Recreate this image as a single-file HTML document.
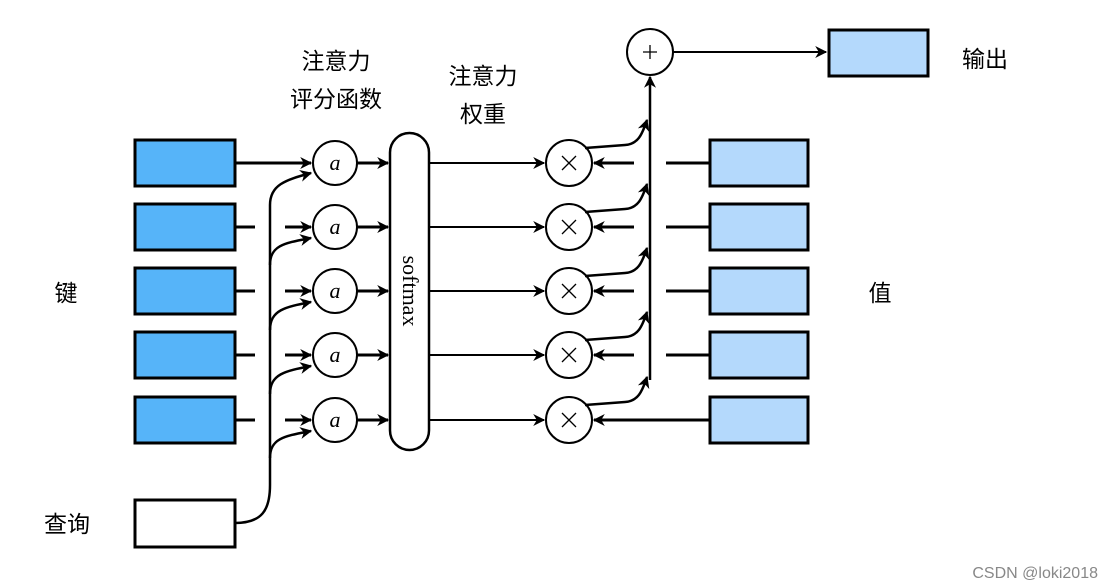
<!DOCTYPE html>
<html><head><meta charset="utf-8"><style>
body{margin:0;background:#fff;}
svg{display:block}
text{font-family:"Liberation Sans","Noto Sans CJK SC",sans-serif;}
</style></head><body>
<svg width="1114" height="588" viewBox="0 0 1114 588" xmlns="http://www.w3.org/2000/svg">
<defs>
<marker id="ar2" viewBox="0 0 10 10" refX="9" refY="5" markerWidth="14" markerHeight="12" orient="auto" markerUnits="userSpaceOnUse">
<path d="M0,0 L10,5 L0,10 L3,5 Z" fill="#000"/>
</marker>
</defs>
<g stroke="#000" stroke-width="3">
<rect x="135" y="140" width="100" height="46" fill="#56b4f9"/>
<rect x="135" y="204" width="100" height="46" fill="#56b4f9"/>
<rect x="135" y="268" width="100" height="46" fill="#56b4f9"/>
<rect x="135" y="332" width="100" height="46" fill="#56b4f9"/>
<rect x="135" y="397" width="100" height="46" fill="#56b4f9"/>
<rect x="135" y="500" width="100" height="47" fill="#fff"/>
<rect x="710" y="140" width="98" height="46" fill="#b4d9fc"/>
<rect x="710" y="204" width="98" height="46" fill="#b4d9fc"/>
<rect x="710" y="268" width="98" height="46" fill="#b4d9fc"/>
<rect x="710" y="332" width="98" height="46" fill="#b4d9fc"/>
<rect x="710" y="397" width="98" height="46" fill="#b4d9fc"/>
<rect x="829" y="30" width="99" height="46" fill="#b4d9fc"/>
<rect x="390" y="133" width="39" height="317" rx="19.5" fill="#fff" stroke-width="2.5"/>
</g>
<g stroke="#000" stroke-width="2" fill="#fff">
<circle cx="335" cy="163" r="22"/><circle cx="335" cy="227" r="22"/><circle cx="335" cy="291" r="22"/><circle cx="335" cy="355" r="22"/><circle cx="335" cy="420" r="22"/>
<circle cx="569" cy="163" r="23"/><circle cx="569" cy="227" r="23"/><circle cx="569" cy="291" r="23"/><circle cx="569" cy="355" r="23"/><circle cx="569" cy="420" r="23"/>
<circle cx="650" cy="52" r="23"/>
</g>
<g stroke="#000" stroke-width="1.3">
<path d="M562,156 L576,170 M576,156 L562,170"/>
<path d="M562,220 L576,234 M576,220 L562,234"/>
<path d="M562,284 L576,298 M576,284 L562,298"/>
<path d="M562,348 L576,362 M576,348 L562,362"/>
<path d="M562,413 L576,427 M576,413 L562,427"/>
<path d="M643,52 L657,52 M650,45 L650,59"/>
</g>
<g font-style="italic" font-size="22" text-anchor="middle">
<text x="335" y="170" style="font-family:'Liberation Serif',serif">a</text>
<text x="335" y="234" style="font-family:'Liberation Serif',serif">a</text>
<text x="335" y="298" style="font-family:'Liberation Serif',serif">a</text>
<text x="335" y="362" style="font-family:'Liberation Serif',serif">a</text>
<text x="335" y="427" style="font-family:'Liberation Serif',serif">a</text>
</g>
<text transform="translate(403,291) rotate(90)" text-anchor="middle" font-size="22" style="font-family:'Liberation Serif',serif">softmax</text>
<g stroke="#000" stroke-width="3" fill="none">
<path d="M235,163 L311,163" marker-end="url(#ar2)"/>
<path d="M235,227 L255,227 M285,227 L311,227" marker-end="url(#ar2)"/>
<path d="M235,291 L255,291 M285,291 L311,291" marker-end="url(#ar2)"/>
<path d="M235,355 L255,355 M285,355 L311,355" marker-end="url(#ar2)"/>
<path d="M235,420 L255,420 M285,420 L311,420" marker-end="url(#ar2)"/>
<path d="M357,163 L388,163" marker-end="url(#ar2)"/>
<path d="M357,227 L388,227" marker-end="url(#ar2)"/>
<path d="M357,291 L388,291" marker-end="url(#ar2)"/>
<path d="M357,355 L388,355" marker-end="url(#ar2)"/>
<path d="M357,420 L388,420" marker-end="url(#ar2)"/>
</g>
<g stroke="#000" stroke-width="2.5" fill="none">
<path d="M235,523 C262,523 270,510 270,485 L270,205 C270,185 285,180 311,173" marker-end="url(#ar2)"/>
<path d="M270,265 C270,245 285,243 311,238" marker-end="url(#ar2)"/>
<path d="M270,330 C270,310 285,307 311,302" marker-end="url(#ar2)"/>
<path d="M270,394 C270,374 285,371 311,366" marker-end="url(#ar2)"/>
<path d="M270,458 C270,438 285,436 311,431" marker-end="url(#ar2)"/>
</g>
<g stroke="#000" stroke-width="2" fill="none">
<path d="M429,163 L544,163" marker-end="url(#ar2)"/>
<path d="M429,227 L544,227" marker-end="url(#ar2)"/>
<path d="M429,291 L544,291" marker-end="url(#ar2)"/>
<path d="M429,355 L544,355" marker-end="url(#ar2)"/>
<path d="M429,420 L544,420" marker-end="url(#ar2)"/>
<path d="M673,52 L826,52" marker-end="url(#ar2)"/>
</g>
<g stroke="#000" stroke-width="3" fill="none">
<path d="M710,163 L666,163 M634,163 L594,163" marker-end="url(#ar2)"/>
<path d="M710,227 L666,227 M634,227 L594,227" marker-end="url(#ar2)"/>
<path d="M710,291 L666,291 M634,291 L594,291" marker-end="url(#ar2)"/>
<path d="M710,355 L666,355 M634,355 L594,355" marker-end="url(#ar2)"/>
<path d="M710,420 L594,420" marker-end="url(#ar2)"/>
</g>
<g stroke="#000" stroke-width="2.5" fill="none">
<path d="M650,380 L650,77" marker-end="url(#ar2)"/>
<path d="M585,148 L625,145 C638,144 642,135 647,120" marker-end="url(#ar2)"/>
<path d="M585,212 L625,209 C638,208 642,199 647,184" marker-end="url(#ar2)"/>
<path d="M585,276 L625,273 C638,272 642,263 647,248" marker-end="url(#ar2)"/>
<path d="M585,340 L625,337 C638,336 642,327 647,312" marker-end="url(#ar2)"/>
<path d="M585,405 L625,402 C638,401 642,392 647,377" marker-end="url(#ar2)"/>
</g>
<g font-size="23" fill="#000">
<text x="336" y="69" text-anchor="middle">注意力</text>
<text x="336" y="107" text-anchor="middle">评分函数</text>
<text x="483" y="84" text-anchor="middle">注意力</text>
<text x="483" y="122" text-anchor="middle">权重</text>
<text x="985" y="67" text-anchor="middle">输出</text>
<text x="66" y="301" text-anchor="middle">键</text>
<text x="880" y="301" text-anchor="middle">值</text>
<text x="67" y="532" text-anchor="middle">查询</text>
</g>
<text x="1098" y="578" text-anchor="end" font-size="16" fill="#888">CSDN @loki2018</text>
</svg>
</body></html>
